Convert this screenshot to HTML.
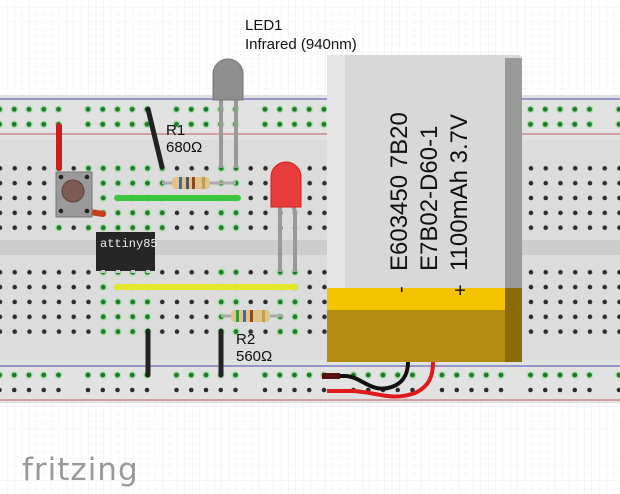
<!DOCTYPE html>
<html><head><meta charset="utf-8"><style>
html,body{margin:0;padding:0;background:#fff}
svg{display:block}
text{font-family:"Liberation Sans",sans-serif}
</style></head><body>
<svg width="620" height="494" viewBox="0 0 620 494" xmlns="http://www.w3.org/2000/svg">
<defs>
<pattern id="grid" width="7.4" height="7.4" patternUnits="userSpaceOnUse"><path d="M7.4 0V7.4H0" fill="none" stroke="#e6ebf0" stroke-width="0.8"/></pattern>
<pattern id="hb" x="7.35" y="160.9" width="14.75" height="14.85" patternUnits="userSpaceOnUse"><circle cx="7.375" cy="7.4" r="2.3" fill="#2e2e2e"/></pattern>
<pattern id="hg" x="7.35" y="160.9" width="14.75" height="14.85" patternUnits="userSpaceOnUse"><circle cx="7.375" cy="7.4" r="3.8" fill="#a8e0a8"/><circle cx="7.375" cy="7.4" r="2.4" fill="#1f7a2e"/></pattern>
<pattern id="rb" x="-8" y="367.5" width="88.5" height="15" patternUnits="userSpaceOnUse"><g fill="#2e2e2e"><circle cx="7.5" cy="7.5" r="2.3"/><circle cx="22.25" cy="7.5" r="2.3"/><circle cx="37" cy="7.5" r="2.3"/><circle cx="51.75" cy="7.5" r="2.3"/><circle cx="66.5" cy="7.5" r="2.3"/></g></pattern>
<pattern id="rg" x="-8" y="101.8" width="88.5" height="15" patternUnits="userSpaceOnUse"><g fill="#a8e0a8"><circle cx="7.5" cy="7.5" r="3.8"/><circle cx="22.25" cy="7.5" r="3.8"/><circle cx="37" cy="7.5" r="3.8"/><circle cx="51.75" cy="7.5" r="3.8"/><circle cx="66.5" cy="7.5" r="3.8"/></g><g fill="#1f7a2e"><circle cx="7.5" cy="7.5" r="2.4"/><circle cx="22.25" cy="7.5" r="2.4"/><circle cx="37" cy="7.5" r="2.4"/><circle cx="51.75" cy="7.5" r="2.4"/><circle cx="66.5" cy="7.5" r="2.4"/></g></pattern>
<pattern id="rg2" x="-8" y="367.5" width="88.5" height="15" patternUnits="userSpaceOnUse"><g fill="#a8e0a8"><circle cx="7.5" cy="7.5" r="3.8"/><circle cx="22.25" cy="7.5" r="3.8"/><circle cx="37" cy="7.5" r="3.8"/><circle cx="51.75" cy="7.5" r="3.8"/><circle cx="66.5" cy="7.5" r="3.8"/></g><g fill="#1f7a2e"><circle cx="7.5" cy="7.5" r="2.4"/><circle cx="22.25" cy="7.5" r="2.4"/><circle cx="37" cy="7.5" r="2.4"/><circle cx="51.75" cy="7.5" r="2.4"/><circle cx="66.5" cy="7.5" r="2.4"/></g></pattern>
</defs>
<rect width="620" height="494" fill="url(#grid)"/>
<!-- breadboard -->
<rect x="0" y="95" width="620" height="308" fill="#dcdcdc"/>
<rect x="0" y="95" width="620" height="45" fill="#e2e2e2"/>
<rect x="0" y="360" width="620" height="43" fill="#e2e2e2"/>
<rect x="0" y="240" width="620" height="15" fill="#cdcdcd"/>
<line x1="0" y1="99" x2="620" y2="99" stroke="#6a6ab8" stroke-width="1.2"/>
<line x1="0" y1="134" x2="620" y2="134" stroke="#c87878" stroke-width="1.2"/>
<line x1="0" y1="366" x2="620" y2="366" stroke="#6a6ab8" stroke-width="1.2"/>
<line x1="0" y1="400" x2="620" y2="400" stroke="#c87878" stroke-width="1.2"/>
<!-- rails -->
<rect x="0" y="101.8" width="620" height="30" fill="url(#rg)"/>
<rect x="0" y="367.5" width="620" height="15" fill="url(#rg2)"/>
<rect x="0" y="382.5" width="620" height="15" fill="url(#rb)"/>
<!-- main holes -->
<rect x="0" y="160.9" width="620" height="74.3" fill="url(#hb)"/>
<rect x="0" y="264.9" width="620" height="74.3" fill="url(#hb)"/>
<g fill="url(#hg)">
<rect x="51.5" y="160.9" width="14.75" height="74.3"/>
<rect x="81" y="160.9" width="88.5" height="74.3"/>
<rect x="213.6" y="160.9" width="29.5" height="74.3"/>
<rect x="95.7" y="264.9" width="59" height="74.3"/>
<rect x="213.6" y="264.9" width="29.5" height="74.3"/>
<rect x="272.6" y="264.9" width="29.5" height="74.3"/>
</g>
<!-- wires -->
<line x1="59" y1="126" x2="59" y2="168" stroke="#c81e1e" stroke-width="6" stroke-linecap="round"/>
<line x1="148" y1="109" x2="162" y2="167" stroke="#222" stroke-width="5" stroke-linecap="round"/>
<line x1="117" y1="198" x2="238" y2="198" stroke="#3ec43e" stroke-width="6" stroke-linecap="round"/>
<line x1="117" y1="287" x2="295" y2="287" stroke="#e6e62a" stroke-width="6" stroke-linecap="round"/>
<line x1="148" y1="331" x2="148" y2="375" stroke="#222" stroke-width="5" stroke-linecap="round"/>
<line x1="221" y1="331" x2="221" y2="375" stroke="#222" stroke-width="5" stroke-linecap="round"/>
<line x1="90" y1="212" x2="103" y2="214" stroke="#c83c1e" stroke-width="6" stroke-linecap="round"/>
<!-- button -->
<rect x="56" y="172" width="36" height="45" fill="#9a9a9a" stroke="#777" stroke-width="1"/>
<circle cx="73" cy="191" r="11" fill="#7c5c52" stroke="#5c4038"/>
<g fill="#222"><circle cx="61" cy="177" r="2.3"/><circle cx="87" cy="177" r="2.3"/><circle cx="61" cy="211" r="2.3"/><circle cx="87" cy="211" r="2.3"/></g>
<!-- attiny -->
<rect x="96" y="232" width="59" height="39" fill="#262626"/>
<g fill="#ccc"><rect x="101" y="270" width="4" height="3"/><rect x="116" y="270" width="4" height="3"/><rect x="131" y="270" width="4" height="3"/><rect x="146" y="270" width="4" height="3"/></g>
<text x="100" y="247" font-size="12" fill="#eee" style="font-family:'Liberation Mono',monospace">attiny85</text>
<!-- R1 -->
<line x1="162" y1="183" x2="236" y2="183" stroke="#aaa" stroke-width="3"/>
<rect x="172" y="177" width="38" height="12" rx="4" fill="#e0c28c"/>
<rect x="179" y="177" width="3" height="12" fill="#3a6ab0"/><rect x="186" y="177" width="3" height="12" fill="#555"/><rect x="192" y="177" width="3" height="12" fill="#8a4a1e"/><rect x="202" y="177" width="3" height="12" fill="#c0a050"/>
<!-- R2 -->
<line x1="221" y1="316" x2="283" y2="316" stroke="#aaa" stroke-width="3"/>
<rect x="231" y="310" width="39" height="12" rx="4" fill="#e0c28c"/>
<rect x="236" y="310" width="3" height="12" fill="#3a9a3a"/><rect x="243" y="310" width="3" height="12" fill="#3a6ab0"/><rect x="250" y="310" width="3" height="12" fill="#8a4a1e"/><rect x="262" y="310" width="3" height="12" fill="#c0a050"/>
<!-- IR LED -->
<path d="M221 96 V168 M236 96 V168" stroke="#999" stroke-width="4"/>
<path d="M213 100 V74 A15 15 0 0 1 243 74 V100 Z" fill="#8e8e8e" stroke="#777"/>
<!-- red LED -->
<path d="M280 205 V272 M293 205 L295 212 V272" stroke="#999" stroke-width="4" fill="none"/>
<path d="M271 207 V177 A15 15 0 0 1 301 177 V207 Z" fill="#e83c3c" stroke="#d02020"/>
<!-- battery -->
<rect x="327" y="55" width="195" height="307" rx="4" fill="#d8d8d8"/>
<rect x="327" y="55" width="18" height="307" fill="#e6e6e6"/>
<rect x="505" y="58" width="17" height="304" fill="#9a9a9a"/>
<rect x="327" y="288" width="195" height="22" fill="#f5c400"/>
<rect x="327" y="310" width="195" height="52" fill="#b38c10"/>
<rect x="505" y="288" width="17" height="74" fill="#8a6c08"/>
<path d="M327 376 H345 C360 376 370 392 388 388 C402 385 408 375 408 362" stroke="#111" stroke-width="4" fill="none"/>
<path d="M327 391 H350 C375 391 390 402 415 393 C430 386 433 375 433 362" stroke="#e01a1a" stroke-width="4" fill="none"/>
<rect x="322" y="373" width="18" height="6" fill="#5a1010"/>
<g font-size="24" fill="#111">
<text transform="translate(407,271) rotate(-90)">E603450 7B20</text>
<text transform="translate(437,271) rotate(-90)">E7B02-D60-1</text>
<text transform="translate(467,271) rotate(-90)">1100mAh 3.7V</text>
<text transform="translate(407,293) rotate(-90)" font-size="20">-</text>
<text transform="translate(467,296) rotate(-90)" font-size="20">+</text>
</g>
<!-- labels -->
<g font-size="15" fill="#111">
<text x="245" y="30">LED1</text>
<text x="245" y="49">Infrared (940nm)</text>
<text x="166" y="135">R1</text>
<text x="166" y="152">680Ω</text>
<text x="236" y="344">R2</text>
<text x="236" y="361">560Ω</text>
</g>
<text x="22" y="480" font-size="31" fill="#999" style="font-family:'DejaVu Sans',sans-serif" letter-spacing="1">fritzing</text>
</svg>
</body></html>
